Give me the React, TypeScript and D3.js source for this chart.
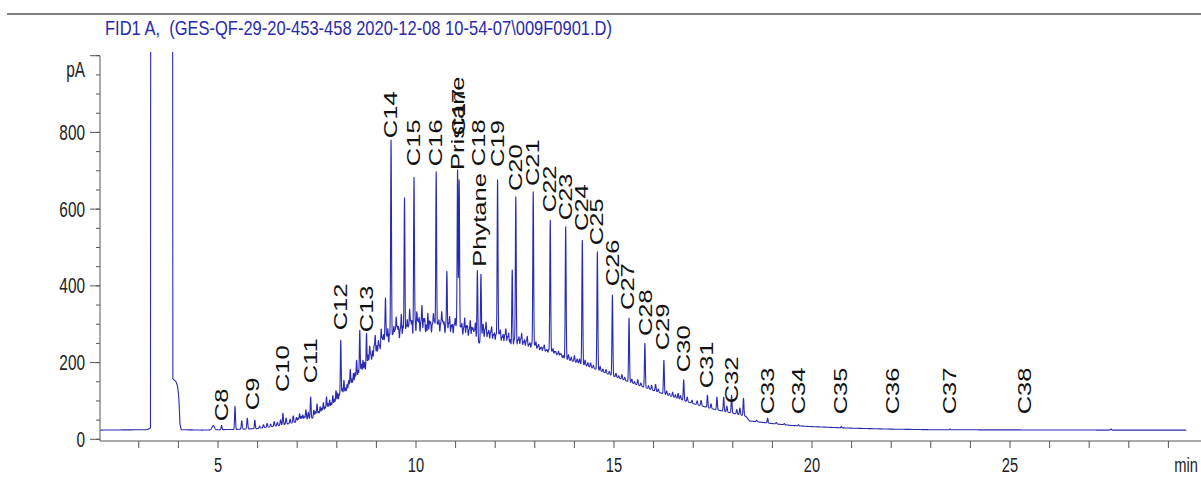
import React from 'react';
import * as d3 from 'd3';

const titleText = 'FID1 A,  (GES-QF-29-20-453-458 2020-12-08 10-54-07\\009F0901.D)';
const yTickLabels = [0, 200, 400, 600, 800];
const xTickLabels = [5, 10, 15, 20, 25];
const yUnit = 'pA';
const xUnit = 'min';

// baseline of the trace (solvent front + unresolved hump): [minutes, pA]
const baselinePoints: [number, number][] = [
  [2.03, 24], [3.2, 25], [3.27, 28], [3.295, 30], [3.31, 4000], [3.84, 4000],
  [3.86, 158], [3.9, 154], [3.94, 150], [3.98, 138], [4.01, 110], [4.04, 40],
  [4.07, 25], [4.6, 24], [5.0, 25], [5.5, 26], [6.0, 28], [6.5, 35], [7.0, 45],
  [7.5, 58], [8.0, 88], [8.5, 146], [9.0, 208], [9.5, 240], [10.0, 255],
  [10.5, 260], [11.0, 257], [11.5, 252], [12.0, 246], [12.5, 238], [13.0, 229],
  [13.5, 217], [14.0, 202], [14.5, 184], [15.0, 164], [15.5, 145], [16.0, 127],
  [16.5, 110], [17.0, 93], [17.5, 79], [18.0, 68], [18.33, 60], [18.42, 48],
  [19.0, 41], [19.5, 36], [20.0, 33], [21.0, 29], [22.0, 26.5], [23.0, 25],
  [25.0, 24.5], [27.4, 24], [29.45, 24],
];

// resolved peaks: [minutes, apex pA]
const majorPeaks: [number, number][] = [
  [5.09, 36], [5.43, 86], [5.93, 50], [6.64, 68], [7.34, 110], [8.1, 258],
  [8.58, 284], [8.75, 276], [9.23, 358], [9.37, 780], [9.71, 629], [9.95, 681],
  [10.51, 697], [10.78, 436], [11.05, 700], [11.09, 676], [11.55, 440],
  [11.64, 430], [12.06, 676], [12.43, 441], [12.52, 632], [12.96, 645],
  [13.39, 571], [13.78, 554], [14.2, 519], [14.58, 489], [14.96, 376],
  [15.38, 316], [15.78, 250], [16.26, 206], [16.76, 155], [16.97, 102],
  [17.36, 115], [17.6, 110], [17.77, 110], [17.97, 115], [18.27, 107],
  [18.88, 55],
];

// small peaks riding on the hump: [minutes, height above hump pA]
const minorPeaks: [number, number][] = [
  [4.88, 11], [5.6, 22], [5.74, 28], [6.05, 6], [6.15, 8], [6.24, 10], [6.33, 7],
  [6.42, 12], [6.5, 9], [6.58, 14], [6.72, 16], [6.82, 11], [6.9, 18], [6.98, 12],
  [7.06, 20], [7.14, 15], [7.22, 26], [7.28, 18], [7.42, 20], [7.5, 34], [7.58, 22],
  [7.66, 28], [7.74, 38], [7.82, 25], [7.9, 32], [7.98, 40], [8.02, 30],
  [8.18, 45], [8.26, 25], [8.34, 55], [8.42, 35], [8.5, 60], [8.66, 40],
  [8.83, 55], [8.9, 35], [8.97, 65], [9.05, 45], [9.12, 70], [9.18, 50],
  [9.29, 60], [9.44, 55], [9.5, 75], [9.56, 50], [9.63, 80], [9.78, 60],
  [9.84, 85], [9.9, 55], [10.02, 75], [10.08, 60], [10.15, 90], [10.22, 55],
  [10.3, 70], [10.37, 45], [10.44, 65], [10.58, 50], [10.65, 70], [10.71, 45],
  [10.85, 60], [10.92, 40], [10.99, 55], [11.16, 45], [11.23, 60], [11.3, 40],
  [11.37, 55], [11.44, 35], [11.5, 50], [11.7, 40], [11.77, 55], [11.84, 35],
  [11.91, 45], [11.98, 30], [12.13, 40], [12.2, 30], [12.27, 45], [12.34, 35],
  [12.6, 30], [12.67, 40], [12.74, 25], [12.81, 35], [12.88, 20], [13.03, 25],
  [13.1, 20], [13.17, 15], [13.24, 22], [13.31, 12], [13.46, 18], [13.53, 12],
  [13.6, 15], [13.67, 10], [13.85, 14], [13.92, 10], [14.0, 16], [14.07, 10],
  [14.13, 12], [14.27, 14], [14.34, 10], [14.41, 12], [14.48, 8], [14.65, 12],
  [14.72, 8], [14.8, 10], [14.88, 8], [15.05, 10], [15.12, 6], [15.2, 12],
  [15.27, 8], [15.45, 10], [15.52, 6], [15.6, 14], [15.68, 8], [15.87, 8],
  [15.95, 12], [16.05, 18], [16.12, 8], [16.33, 10], [16.4, 6], [16.48, 12],
  [16.55, 8], [16.62, 14], [16.68, 10], [16.85, 12], [17.1, 10], [17.2, 14],
  [17.45, 12], [17.85, 15], [18.1, 12], [18.18, 18], [18.6, 4], [19.1, 4],
  [19.3, 3], [19.66, 3], [20.74, 3], [23.49, 2], [27.55, 3],
  // finer hash between the larger hump peaks
  [7.02, 10], [7.1, 12], [7.18, 9], [7.46, 15], [7.54, 12], [7.62, 16], [7.7, 14],
  [7.78, 18], [7.86, 15], [7.94, 20], [8.06, 22], [8.14, 28], [8.22, 20], [8.3, 30],
  [8.38, 25], [8.46, 32], [8.54, 28], [8.62, 35], [8.7, 30], [8.79, 38], [8.86, 28],
  [8.94, 40], [9.01, 35], [9.08, 30], [9.15, 42], [9.21, 35], [9.26, 40], [9.33, 45],
  [9.41, 38], [9.47, 42], [9.53, 48], [9.6, 40], [9.67, 50], [9.75, 45], [9.81, 40],
  [9.87, 52], [9.98, 45], [10.05, 50], [10.12, 45], [10.19, 55], [10.26, 40],
  [10.34, 48], [10.41, 38], [10.47, 45], [10.55, 42], [10.62, 40], [10.68, 45],
  [10.75, 35], [10.82, 42], [10.89, 38], [10.96, 40], [11.02, 35], [11.13, 38],
  [11.2, 32], [11.27, 40], [11.34, 30], [11.41, 38], [11.47, 28], [11.68, 30],
  [11.74, 35], [11.81, 28], [11.88, 30], [11.95, 25], [12.02, 28], [12.1, 30],
  [12.17, 22], [12.24, 28], [12.31, 25], [12.38, 20], [12.48, 22], [12.57, 20],
  [12.64, 25], [12.71, 18], [12.78, 22], [12.85, 15], [12.92, 18], [13.0, 15],
  [13.07, 15], [13.14, 12], [13.21, 14], [13.28, 10], [13.35, 12], [13.43, 10],
  [13.5, 12], [13.57, 8], [13.64, 10], [13.72, 8],
];

// peak annotations
const labelNames = [
  'C8', 'C9', 'C10', 'C11', 'C12', 'C13', 'C14', 'C15', 'C16', 'Pristane', 'C17',
  'Phytane', 'C18', 'C19', 'C20', 'C21', 'C22', 'C23', 'C24', 'C25', 'C26', 'C27',
  'C28', 'C29', 'C30', 'C31', 'C32', 'C33', 'C34', 'C35', 'C36', 'C37', 'C38',
];
const labelTimes = [
  5.1, 5.88, 6.64, 7.34, 8.1, 8.75, 9.37, 9.95, 10.51, 11.05, 11.08,
  11.62, 11.58, 12.06, 12.52, 12.96, 13.39, 13.78, 14.2, 14.58, 14.98, 15.36,
  15.8, 16.24, 16.77, 17.34, 17.97, 18.88, 19.66, 20.74, 22.05, 23.49, 25.38,
];
const labelLevels = [
  47, 76, 123, 146, 284, 279, 785, 712, 712, 702, 792,
  450, 712, 710, 647, 660, 592, 571, 543, 506, 399, 337,
  269, 232, 175, 133, 94, 65, 65, 65, 65, 65, 65,
];

const W = 1201;
const H = 477;
const FONT = "'Liberation Sans', Arial, sans-serif";

export default function App() {
  const x = d3.scaleLinear().domain([2, 30]).range([99.2, 1208]);
  const y = d3.scaleLinear().domain([0, 1000]).range([439.3, 55.7]);

  const bt = baselinePoints.map((d) => d[0]);
  const bv = baselinePoints.map((d) => d[1]);
  const base = (t: number) => {
    const i = d3.bisectRight(bt, t);
    if (i <= 0) return bv[0];
    if (i >= bt.length) return bv[bv.length - 1];
    const t0 = bt[i - 1], t1 = bt[i];
    const f = (t - t0) / (t1 - t0);
    return bv[i - 1] + f * (bv[i] - bv[i - 1]);
  };

  const peaks: { t: number; a: number; s: number }[] = [];
  majorPeaks.forEach(([t, apex]) => peaks.push({ t, a: Math.max(0, apex - base(t)), s: 0.011 }));
  minorPeaks.forEach(([t, h]) => peaks.push({ t, a: h, s: t < 5 ? 0.03 : 0.012 }));

  const tStart = 2.03;
  const tEnd = 29.45;
  const times: number[] = [];
  for (let t = tStart; t <= tEnd; t += 0.0025) times.push(t);
  peaks.forEach((p) => times.push(p.t));
  bt.forEach((t) => times.push(t));
  times.sort((a, b) => a - b);

  const pts: [number, number][] = times
    .filter((t) => t >= tStart && t <= tEnd)
    .map((t) => {
      let v = base(t);
      for (const p of peaks) {
        const d = (t - p.t) / p.s;
        if (d > -6 && d < 6) v += p.a * Math.exp(-0.5 * d * d);
      }
      return [t, v];
    });

  const line = d3
    .line<[number, number]>()
    .x((d) => x(d[0]))
    .y((d) => y(Math.min(d[1], 1020)));

  const yMinor = d3.range(0, 1001, 50);
  const yMajor = d3.range(0, 1001, 200);
  const xMinor = d3.range(3, 30, 1);

  return (
    <svg width={W} height={H} style={{ position: 'absolute', left: 0, top: 0, background: '#fff' }}>
      <defs>
        <clipPath id="plotClip">
          <rect x={100} y={52} width={1101} height={390} />
        </clipPath>
      </defs>
      <rect x={0} y={0} width={W} height={H} fill="#fff" />
      <line x1={7} x2={W} y1={14} y2={14} stroke="#808080" strokeWidth={2} />
      <text
        x={105}
        y={35}
        fontFamily={FONT}
        fontSize={21}
        fill="#2a2aa8"
        textLength={507}
        lengthAdjust="spacingAndGlyphs"
        style={{ whiteSpace: 'pre' }}
      >
        {titleText}
      </text>

      {/* y axis */}
      <line x1={100} x2={100} y1={y(1000)} y2={441} stroke="#555" strokeWidth={1} />
      {yMinor.map((v) => (
        <line key={'ym' + v} x1={96} x2={100} y1={y(v)} y2={y(v)} stroke="#555" strokeWidth={1} />
      ))}
      {yMajor.map((v) => (
        <line key={'yM' + v} x1={90} x2={100} y1={y(v)} y2={y(v)} stroke="#555" strokeWidth={1} />
      ))}
      {yTickLabels.map((v) => (
        <g key={'yl' + v} transform={`translate(85,${y(v)}) scale(0.7,1)`}>
          <text textAnchor="end" dominantBaseline="central" fontFamily={FONT} fontSize={22} fill="#222">
            {v}
          </text>
        </g>
      ))}
      <g transform={`translate(85,77) scale(0.7,1)`}>
        <text textAnchor="end" fontFamily={FONT} fontSize={22} fill="#222">
          {yUnit}
        </text>
      </g>

      {/* x axis */}
      <line x1={100} x2={W} y1={441} y2={441} stroke="#555" strokeWidth={1} />
      {xMinor.map((t) => (
        <line key={'xm' + t} x1={x(t)} x2={x(t)} y1={441} y2={448} stroke="#555" strokeWidth={1} />
      ))}
      {xTickLabels.map((t) => (
        <g key={'xl' + t} transform={`translate(${x(t)},471.5) scale(0.7,1)`}>
          <text textAnchor="middle" fontFamily={FONT} fontSize={21} fill="#222">
            {t}
          </text>
        </g>
      ))}
      <g transform={`translate(1198,471.5) scale(0.7,1)`}>
        <text textAnchor="end" fontFamily={FONT} fontSize={21} fill="#222">
          {xUnit}
        </text>
      </g>

      {/* trace */}
      <g clipPath="url(#plotClip)">
        <path d={line(pts) || ''} fill="none" stroke="#2a2ab2" strokeWidth={1.1} strokeLinejoin="round" />
      </g>

      {/* peak labels */}
      {labelNames.map((name, i) => (
        <g
          key={'pl' + i}
          transform={`translate(${x(labelTimes[i])},${y(labelLevels[i])}) scale(0.7,1) rotate(-90)`}
        >
          <text textAnchor="start" dominantBaseline="central" fontFamily={FONT} fontSize={25.5} fill="#111">
            {name}
          </text>
        </g>
      ))}
    </svg>
  );
}
